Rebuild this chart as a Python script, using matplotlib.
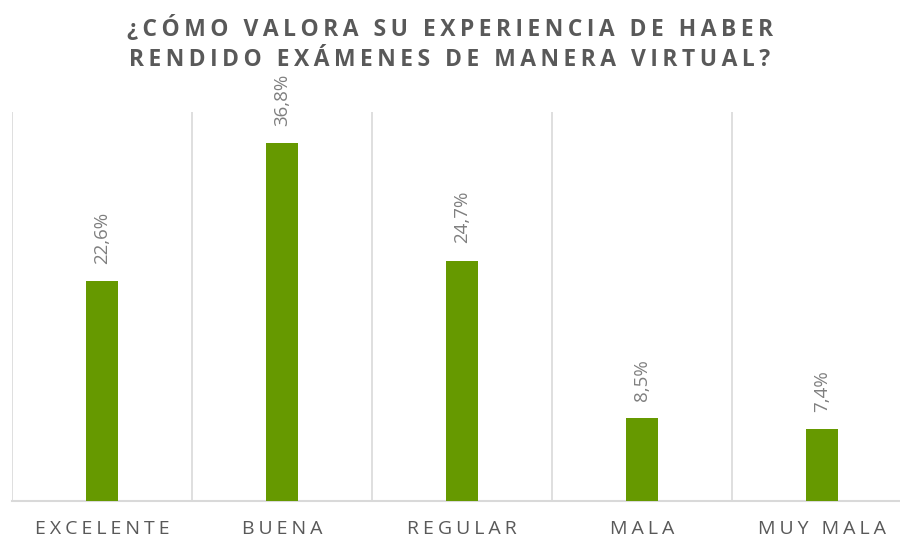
import matplotlib
matplotlib.use("Agg")
import matplotlib.pyplot as plt
import numpy as np

categories = ["EXCELENTE", "BUENA", "REGULAR", "MALA", "MUY MALA"]
values = [22.6, 36.8, 24.7, 8.5, 7.4]
value_labels = ["22,6%", "36,8%", "24,7%", "8,5%", "7,4%"]
title_lines = ["¿CÓMO VALORA SU EXPERIENCIA DE HABER", "RENDIDO EXÁMENES DE MANERA VIRTUAL?"]

HS = "\u200a"
def spaced(s, n=1):
    return (HS * n).join(list(s))

fam = ["Open Sans", "DejaVu Sans"]
plt.rcParams['font.family'] = fam

fig = plt.figure(figsize=(9, 5.4), dpi=100)
ax = fig.add_axes([12/900, (540-501)/540, 900/900, (501-112)/540])

x = np.arange(len(categories))
ax.bar(x, values, width=0.183, color="#669900", zorder=3)
ax.set_xlim(-0.5, len(categories) - 0.5)
ax.set_ylim(0, 40)

for b in np.arange(-0.5, len(categories), 1.0):
    ax.axvline(b, color="#D9D9D9", lw=1.2, zorder=1)
for s in ["top", "right", "left"]:
    ax.spines[s].set_visible(False)
ax.spines["bottom"].set_color("#D9D9D9")
ax.spines["bottom"].set_linewidth(1.5)
ax.set_yticks([])
ax.set_xticks(x)
ax.set_xticklabels([spaced(c, 2) for c in categories], fontsize=14, color="#595959")
ax.tick_params(axis="x", length=0, pad=14)

for xi, v, lab in zip(x, values, value_labels):
    ax.annotate(lab, (xi, v), xytext=(0, 12.5), textcoords="offset points",
                rotation=90, ha="center", va="bottom", fontsize=13.5, color="#7F7F7F")

fig.text(0.5, 0.946, spaced(title_lines[0], 2), ha="center", va="center",
         fontsize=16.5, fontweight="bold", color="#595959")
fig.text(0.5, 0.889, spaced(title_lines[1], 2), ha="center", va="center",
         fontsize=16.5, fontweight="bold", color="#595959")

fig.savefig("out.png", dpi=100)
